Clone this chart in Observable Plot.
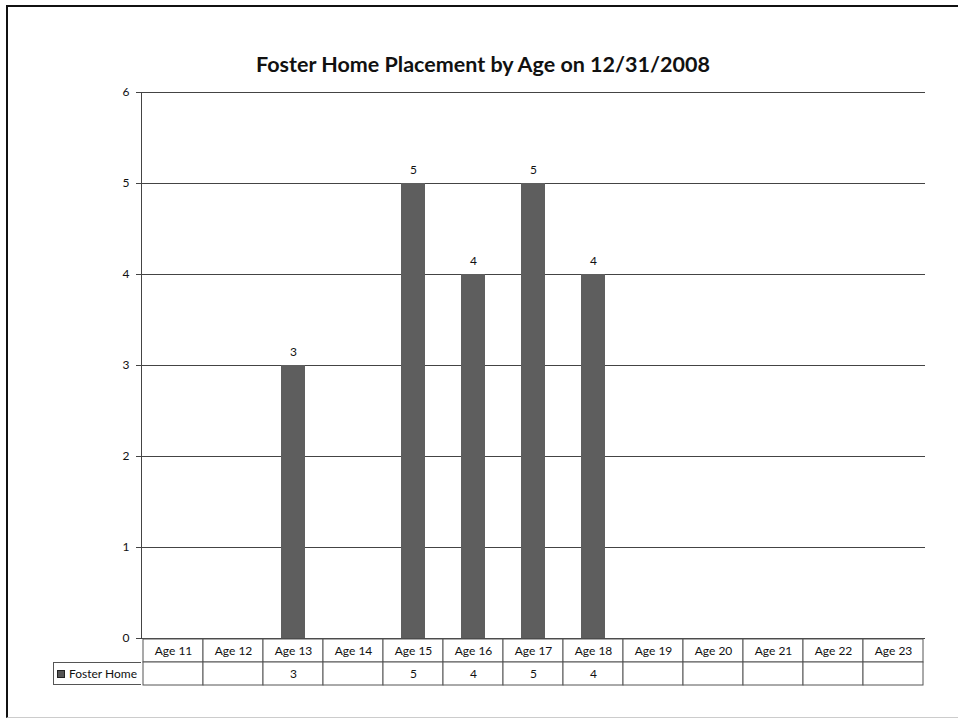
<!DOCTYPE html>
<html>
<head>
<meta charset="utf-8">
<script src="https://cdn.jsdelivr.net/npm/d3@7"></script>
<script src="https://cdn.jsdelivr.net/npm/@observablehq/plot@0.6"></script>
<style>
  html, body { margin: 0; padding: 0; background: #fff; overflow: hidden; }
  #wrap { position: relative; width: 958px; height: 719px; font-family: Lato, "Noto Sans", sans-serif; }
  #frame { position: absolute; left: 6px; top: 5px; width: 1000px; height: 710px;
           border-left: 2px solid #111; border-top: 2px solid #111; border-bottom: 1px solid #ccc; }
  #title { position: absolute; left: 0; width: 966px; top: 50px; text-align: center;
           font-size: 21.5px; font-weight: bold; line-height: 28px; color: #111; }
  #chart { position: absolute; left: 0; top: 0; }
  #table { position: absolute; left: 0; top: 638px; }
  #legcell { position: absolute; left: 53px; top: 662px; width: 88px; height: 23px; box-sizing: border-box;
             border: 1px solid #555; border-right: none; font-size: 12px; line-height: 21px; color: #111;
             padding-left: 3px; white-space: nowrap; }
  #legcell .key { display: inline-block; width: 6px; height: 6px; background: #555; border: 1px solid #222;
                  margin-right: 4px; vertical-align: 0px; }
</style>
</head>
<body>
<div id="wrap">
  <div id="frame"></div>
  <div id="chart"></div>
  <div id="title">Foster Home Placement by Age on 12/31/2008</div>
  <div id="table"></div>
  <div id="legcell"><span class="key"></span>Foster Home</div>
</div>
<script>
const ages = ["Age 11","Age 12","Age 13","Age 14","Age 15","Age 16","Age 17","Age 18","Age 19","Age 20","Age 21","Age 22","Age 23"];
const fosterHome = [null, null, 3, null, 5, 4, 5, 4, null, null, null, null, null];
const yTicks = [0, 1, 2, 3, 4, 5, 6];
const seriesName = "Foster Home";

const rows = ages.map((a, i) => ({age: a, value: fosterHome[i]}));
const bars = rows.filter(d => d.value != null);

const chart = Plot.plot({
  width: 958,
  height: 652,
  marginLeft: 141,
  marginRight: 33,
  marginTop: 92,
  marginBottom: 14,
  style: {fontFamily: "Lato, sans-serif", fontSize: "12px", color: "#111", background: "transparent"},
  x: {domain: ages, padding: 0, axis: null},
  y: {domain: [0, 6], axis: null},
  marks: [
    Plot.gridY(yTicks, {stroke: "#444", strokeOpacity: 1, strokeWidth: 1}),
    Plot.barY(bars, {x: "age", y: "value", fill: "#5e5e5e", insetLeft: 18, insetRight: 18}),
    Plot.text(bars, {x: "age", y: "value", text: d => String(d.value), dy: -13, fill: "#111"}),
    Plot.frame({anchor: "left", stroke: "#444"}),
    Plot.axisY(yTicks, {tickSize: 5, tickPadding: 7, stroke: "#444", fill: "#111", label: null, tickFormat: d => String(d)})
  ]
});
document.getElementById("chart").appendChild(chart);

const table = Plot.plot({
  width: 958,
  height: 48,
  marginLeft: 141,
  marginRight: 33,
  marginTop: 0,
  marginBottom: 1,
  style: {fontFamily: "Lato, sans-serif", fontSize: "12px", color: "#111", background: "transparent"},
  x: {domain: ages, padding: 0, axis: null},
  y: {domain: ["header", "series"], padding: 0, axis: null},
  marks: [
    Plot.cell(rows, {x: "age", y: () => "header", fill: "white", stroke: "#555"}),
    Plot.cell(rows, {x: "age", y: () => "series", fill: "white", stroke: "#555"}),
    Plot.text(rows, {x: "age", y: () => "header", text: "age", fill: "#111"}),
    Plot.text(bars, {x: "age", y: () => "series", text: d => String(d.value), fill: "#111"})
  ]
});
document.getElementById("table").appendChild(table);
</script>
</body>
</html>
